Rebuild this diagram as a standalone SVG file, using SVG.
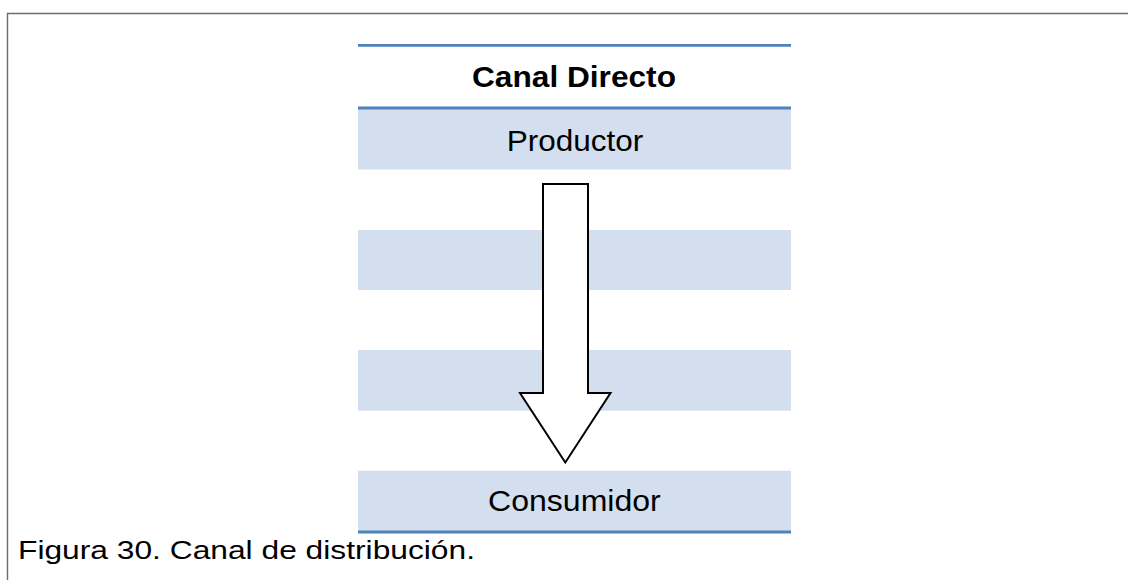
<svg xmlns="http://www.w3.org/2000/svg" width="1128" height="580" viewBox="0 0 1128 580">
  <style>
    .frame { fill: none; stroke: #6d6d6d; stroke-width: 1.4; }
    .band { fill: #d3dfee; }
    .rule { stroke: #4f81bd; stroke-width: 2.8; }
    .label { font-family: "Liberation Sans", Arial, sans-serif; fill: #000; }
    .title { font-weight: bold; font-size: 29px; }
    .cell { font-size: 29px; }
    .caption { font-size: 26px; }
    .arrow { fill: #fff; stroke: #000; stroke-width: 2; stroke-linejoin: miter; }
  </style>

  <rect x="0" y="0" width="1128" height="580" fill="#fff"/>

  <!-- page frame -->
  <path class="frame" d="M7.5,580 V13.5 H1128"/>

  <!-- table bands -->
  <g id="table">
    <rect class="band" x="358" y="108" width="433" height="61.5"/>
    <rect class="band" x="358" y="230" width="433" height="60"/>
    <rect class="band" x="358" y="350" width="433" height="60.7"/>
    <rect class="band" x="358" y="470.7" width="433" height="60"/>
    <line class="rule" x1="358" y1="45.3" x2="791" y2="45.3"/>
    <line class="rule" x1="358" y1="108" x2="791" y2="108"/>
    <line class="rule" x1="358" y1="532" x2="791" y2="532"/>
  </g>

  <g id="header">
    <text class="label title" x="574" y="87.3" text-anchor="middle" textLength="204" lengthAdjust="spacingAndGlyphs">Canal Directo</text>
  </g>

  <g id="productor">
    <text class="label cell" x="575" y="150.7" text-anchor="middle" textLength="136.6" lengthAdjust="spacingAndGlyphs">Productor</text>
  </g>

  <g id="consumidor">
    <text class="label cell" x="574.4" y="511" text-anchor="middle" textLength="172.7" lengthAdjust="spacingAndGlyphs">Consumidor</text>
  </g>

  <!-- block arrow from producer to consumer -->
  <g id="connectors">
    <path class="arrow" d="M543,184 H588 V393 H610.5 L565.3,462.5 L520,393 H543 Z"/>
  </g>

  <g id="caption">
    <text class="label caption" x="18" y="559.3" textLength="457" lengthAdjust="spacingAndGlyphs">Figura 30. Canal de distribución.</text>
  </g>
</svg>
